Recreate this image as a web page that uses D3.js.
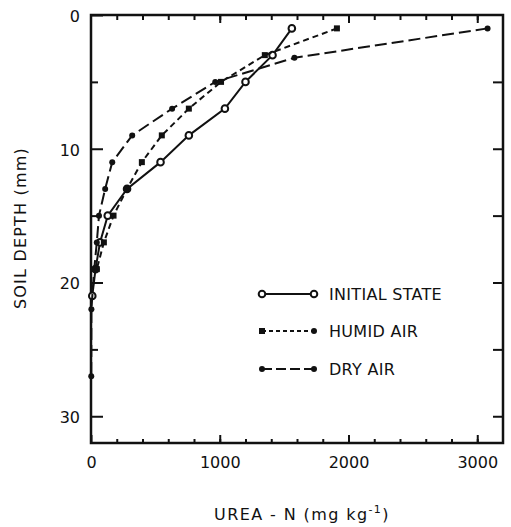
<!DOCTYPE html>
<html>
<head>
<meta charset="utf-8">
<script src="https://cdn.jsdelivr.net/npm/d3@7"></script>
<style>
  body { margin: 0; background: #fff; }
  text { font-family: "DejaVu Sans", sans-serif; fill: #111; }
</style>
</head>
<body>
<svg id="chart" width="511" height="527"></svg>
<script>
(function () {

  'use strict';

  // Values (depth in mm, urea-N in mg/kg)
  var initialDepth = [1, 3, 5, 7, 9, 11, 13, 15, 17, 19, 21];
  var initialUrea = [1560, 1410, 1200, 1040, 760, 540, 280, 130, 70, 35, 10];

  var humidDepth = [1, 3, 5, 7, 9, 11, 13, 15, 17, 19];
  var humidUrea = [1910, 1350, 1010, 760, 550, 395, 280, 175, 100, 45];

  var dryDepth = [1, 3.2, 5, 7, 9, 11, 13, 15, 17, 19, 22, 27];
  var dryUrea = [3080, 1580, 965, 630, 320, 165, 110, 62, 45, 25, 3, 2];

  var xTicks = [0, 1000, 2000, 3000];
  var yTicks = [0, 10, 20, 30];
  var legendLabels = ['INITIAL STATE', 'HUMID AIR', 'DRY AIR'];

  // Settings
  var left = 91, right = 503, top = 15, bottom = 443;

  var x = d3.scaleLinear().domain([0, 3200]).range([left, right]);
  var y = d3.scaleLinear().domain([0, 32]).range([top, bottom]);

  var svg = d3.select('#chart');

  var series = [
    { name: legendLabels[0], depth: initialDepth, urea: initialUrea, dash: null, marker: 'open' },
    { name: legendLabels[1], depth: humidDepth, urea: humidUrea, dash: '6,4', marker: 'square' },
    { name: legendLabels[2], depth: dryDepth, urea: dryUrea, dash: '12,5', marker: 'dot' }
  ];

  drawAxes();
  series.forEach(drawSeries);
  drawLegend();

  function drawAxes() {

    var ax;

    // left: labels + long ticks, short ticks between
    ax = svg.append('g')
        .attr('transform', 'translate(' + left + ',0)')
        .call(d3.axisLeft(y).tickValues(yTicks).tickSize(-12).tickPadding(11).tickSizeOuter(0));
    ax.selectAll('text').attr('font-size', 16).attr('dy', '0.4em');

    svg.append('g')
        .attr('transform', 'translate(' + left + ',0)')
        .call(d3.axisLeft(y).tickValues([5, 15, 25]).tickSize(-7).tickFormat('').tickSizeOuter(0));

    // right: inward ticks every 5
    svg.append('g')
        .attr('transform', 'translate(' + right + ',0)')
        .call(d3.axisRight(y).tickValues(d3.range(5, 32, 5)).tickSize(-10).tickFormat('').tickSizeOuter(0));

    // bottom
    ax = svg.append('g')
        .attr('transform', 'translate(0,' + bottom + ')')
        .call(d3.axisBottom(x).tickValues(xTicks).tickFormat(d3.format('d'))
          .tickSize(-8).tickPadding(17).tickSizeOuter(0));
    ax.selectAll('text').attr('font-size', 16).attr('dy', '0.5em');

    svg.append('g')
        .attr('transform', 'translate(0,' + bottom + ')')
        .call(d3.axisBottom(x).tickValues(d3.range(200, 3200, 200)).tickSize(-4).tickFormat('').tickSizeOuter(0));

    // top
    svg.append('g')
        .attr('transform', 'translate(0,' + top + ')')
        .call(d3.axisTop(x).tickValues(xTicks.slice(1)).tickSize(-8).tickFormat('').tickSizeOuter(0));

    svg.append('g')
        .attr('transform', 'translate(0,' + top + ')')
        .call(d3.axisTop(x).tickValues(d3.range(200, 3200, 200)).tickSize(-5).tickFormat('').tickSizeOuter(0));

    svg.selectAll('.domain').remove();
    svg.selectAll('.tick line').attr('stroke', '#111').attr('stroke-width', 2);

    svg.append('rect')
        .attr('x', left)
        .attr('y', top)
        .attr('width', right - left)
        .attr('height', bottom - top)
        .attr('fill', 'none')
        .attr('stroke', '#111')
        .attr('stroke-width', 2.5);

    // axis titles
    var xt = svg.append('text')
        .attr('x', 302)
        .attr('y', 520)
        .attr('text-anchor', 'middle')
        .attr('font-size', 16)
        .attr('letter-spacing', 1.4);
    xt.append('tspan').text('UREA - N (mg kg');
    xt.append('tspan').attr('font-size', 11).attr('dy', -7).text('-1');
    xt.append('tspan').attr('dy', 7).text(')');

    svg.append('text')
        .attr('transform', 'translate(26,228) rotate(-90)')
        .attr('text-anchor', 'middle')
        .attr('font-size', 16)
        .attr('letter-spacing', 1.2)
        .text('SOIL DEPTH (mm)');
  }

  function drawSeries(s) {

    var pts = s.depth.map(function (d, i) { return [x(s.urea[i]), y(d)]; });

    svg.append('path')
        .attr('d', d3.line()(pts))
        .attr('fill', 'none')
        .attr('stroke', '#111')
        .attr('stroke-width', 2)
        .attr('stroke-dasharray', s.dash);

    pts.forEach(function (p) { marker(s.marker, p[0], p[1]); });
  }

  function marker(type, cx, cy) {

    if (type === 'open') {
      svg.append('circle').attr('cx', cx).attr('cy', cy).attr('r', 3.3)
          .attr('fill', '#fff').attr('stroke', '#111').attr('stroke-width', 2);
    } else if (type === 'square') {
      svg.append('rect').attr('x', cx - 3).attr('y', cy - 3).attr('width', 6).attr('height', 6)
          .attr('fill', '#111');
    } else {
      svg.append('circle').attr('cx', cx).attr('cy', cy).attr('r', 3).attr('fill', '#111');
    }
  }

  function drawLegend() {

    var rows = [
      { y: 294, dash: null, a: 'open', b: 'open' },
      { y: 331, dash: '4,3', a: 'square', b: 'dot' },
      { y: 369, dash: '10,4', a: 'dot', b: 'dot' }
    ];

    rows.forEach(function (r, i) {

      svg.append('line')
          .attr('x1', 262).attr('x2', 314)
          .attr('y1', r.y).attr('y2', r.y)
          .attr('stroke', '#111')
          .attr('stroke-width', 2)
          .attr('stroke-dasharray', r.dash);

      marker(r.a, 262, r.y);
      marker(r.b, 314, r.y);

      svg.append('text')
          .attr('x', 329)
          .attr('y', r.y)
          .attr('dy', '0.38em')
          .attr('font-size', 16)
          .attr('letter-spacing', 0.3)
          .text(legendLabels[i]);
    });
  }
})();
</script>
</body>
</html>
